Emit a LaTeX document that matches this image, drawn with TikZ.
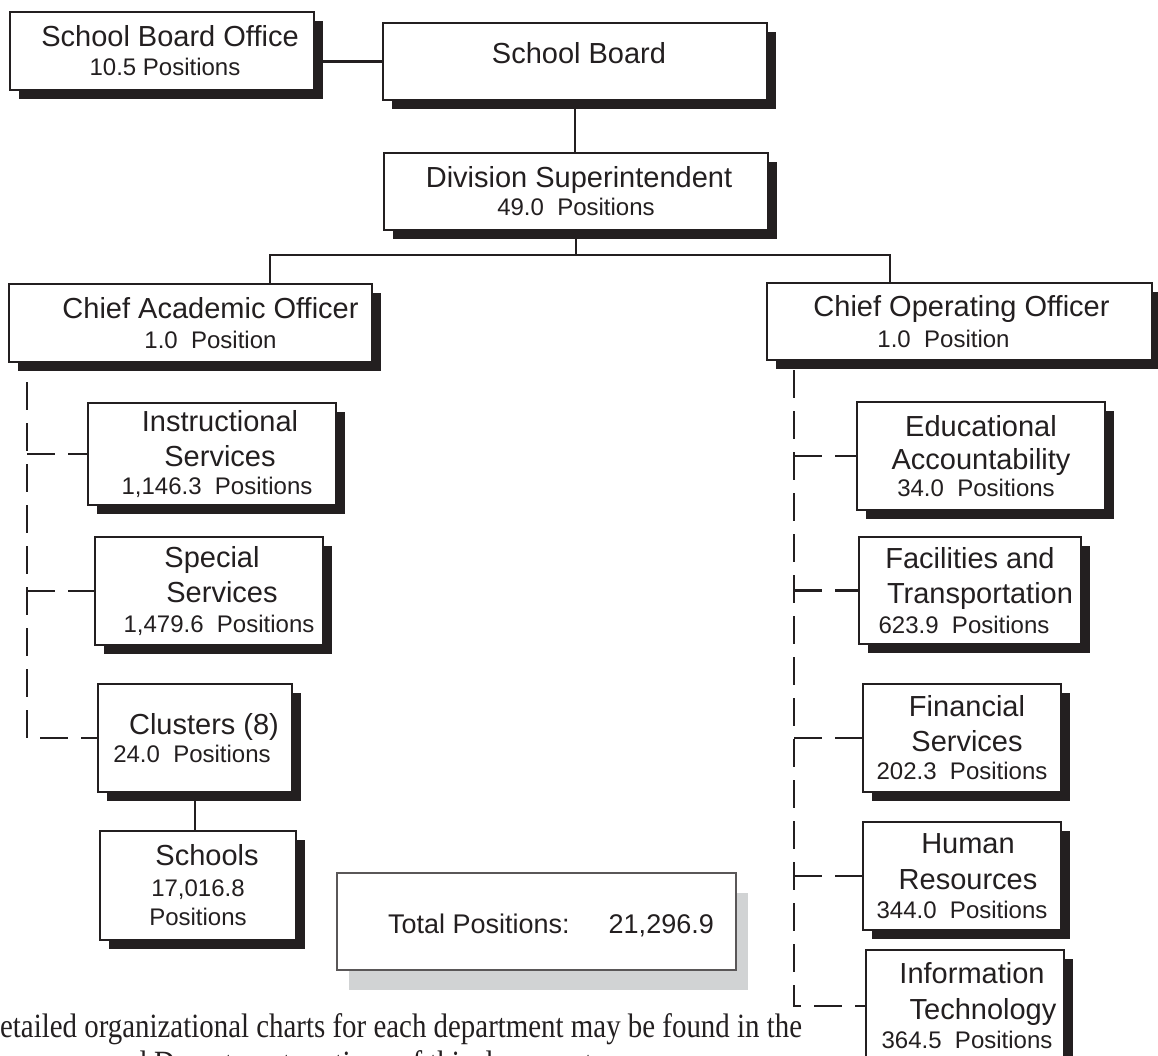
\documentclass[tikz,border=0pt]{standalone}
\usepackage{fontspec}
\setmainfont{Liberation Sans}
\newfontfamily\capfont[FakeStretch=0.85]{Liberation Serif}
\usetikzlibrary{shadows}
\definecolor{ink}{RGB}{35,31,32}
\definecolor{shadowgray}{RGB}{209,211,212}
\newcommand\orgmain{\fontsize{29}{34}\selectfont}
\newcommand\orgsub{\fontsize{24}{28}\selectfont}
% shift a centred line sideways by #1
\newcommand\nudge[2]{\hspace*{#1}#2}

\begin{document}
\begin{tikzpicture}[x=1pt,y=-1pt,
  orgbox/.style={draw=ink, line width=2.6pt, fill=white, text=ink, align=center,
    inner sep=0pt, font=\orgmain,
    drop shadow={shadow xshift=9pt, shadow yshift=-9pt, opacity=1, fill=ink}},
  link/.style={draw=ink, line width=2.4pt},
  dashlink/.style={draw=ink, line width=2.4pt, dash pattern=on 28pt off 13pt},
]
\useasboundingbox (0,0) rectangle (1158,1055);
\clip (0,0) rectangle (1158,1055);

% top of the hierarchy
\node[orgbox, minimum width=304pt, minimum height=78pt] (sbo) at (162,51)
  {\nudge{16pt}{School Board Office}\\[-5pt]{\orgsub \nudge{6pt}{10.5 Positions}}};
\node[orgbox, minimum width=384pt, minimum height=77pt] (sb) at (575,61.5)
  {\raisebox{-2pt}[0pt][0pt]{\nudge{8pt}{School Board}}};
\node[orgbox, minimum width=384pt, minimum height=77pt] (ds) at (576,191.5)
  {\nudge{6pt}{Division Superintendent}\\[-6pt]{\orgsub 49.0\ \ Positions}};

% the two chief officers
\node[orgbox, minimum width=363pt, minimum height=78pt] (cao) at (190.5,323)
  {\nudge{40pt}{Chief Academic Officer}\\[-4pt]{\orgsub \nudge{40pt}{1.0\ \ Position}}};
\node[orgbox, minimum width=385pt, minimum height=77pt] (coo) at (959.5,321.5)
  {\nudge{4pt}{Chief Operating Officer}\\[-3pt]{\orgsub 1.0\ \ Position\hspace*{32pt}}};

% academic side
\node[orgbox, minimum width=248pt, minimum height=102pt] (ins) at (212,454)
  {\nudge{16pt}{Instructional}\\[1pt]\nudge{16pt}{Services}\\[-6pt]{\orgsub \nudge{10pt}{1,146.3\ \ Positions}}};
\node[orgbox, minimum width=228pt, minimum height=108pt] (spe) at (209,591)
  {\nudge{6pt}{Special}\\[1pt]\nudge{26pt}{Services}\\[-4pt]{\orgsub \nudge{20pt}{1,479.6\ \ Positions}}};
\node[orgbox, minimum width=194pt, minimum height=108pt] (clu) at (195,738)
  {\nudge{18pt}{Clusters (8)}\\[-6pt]{\orgsub 24.0\ \ Positions\hspace*{6pt}}};
\node[orgbox, minimum width=196pt, minimum height=109pt] (sch) at (198,885.5)
  {\nudge{18pt}{Schools}\\[-3pt]{\orgsub 17,016.8}\\[-5pt]{\orgsub Positions}};

% operating side
\node[orgbox, minimum width=248pt, minimum height=108pt] (ea) at (981,456)
  {Educational\\[-1pt]Accountability\\[-7pt]{\orgsub 34.0\ \ Positions\hspace*{10pt}}};
\node[orgbox, minimum width=222pt, minimum height=107pt] (ft) at (970,590.5)
  {Facilities and\\[1pt]\nudge{20pt}{Transportation}\\[-4pt]{\orgsub 623.9\ \ Positions\hspace*{12pt}}};
\node[orgbox, minimum width=198pt, minimum height=108pt] (fin) at (962,738)
  {\nudge{10pt}{Financial}\\[1pt]\nudge{10pt}{Services}\\[-6pt]{\orgsub 202.3\ \ Positions}};
\node[orgbox, minimum width=198pt, minimum height=108pt] (hr) at (962,876)
  {\nudge{12pt}{Human}\\[2pt]\nudge{12pt}{Resources}\\[-5pt]{\orgsub 344.0\ \ Positions}};
\node[orgbox, minimum width=198pt, minimum height=112pt] (it) at (965,1006)
  {\nudge{14pt}{Information}\\[2pt]\nudge{36pt}{Technology}\\[-5pt]{\orgsub \nudge{4pt}{364.5\ \ Positions}}};

% solid reporting lines
\draw[link] (sb.west) -- (sb.west -| sbo.east);
\draw[link] (sb.south) -- (sb.south |- ds.north);
\coordinate (caotap) at (270,255);
\coordinate (cootap) at (890,255);
\draw[link] (ds.south) -- (ds.south |- caotap);
\draw[link] (caotap |- cao.north) -- (caotap) -- (cootap) -- (cootap |- coo.north);
\draw[link] (clu.south) -- (clu.south |- sch.north);

% dashed reporting lines, academic side
\coordinate (ltop) at (27,382);
\draw[dashlink] (ltop) -- (ltop |- clu.west) -- (clu.west);
\draw[dashlink] (ltop |- ins.west) -- (ins.west);
\draw[dashlink] (ltop |- spe.west) -- (spe.west);

% dashed reporting lines, operating side
\coordinate (rtop) at (794,370);
\draw[dashlink] (rtop) -- (rtop |- it.west) -- (it.west);
\draw[dashlink] (rtop |- ea.west) -- (ea.west);
\draw[dashlink] (rtop |- ft.west) -- (ft.west);
\draw[dashlink] (rtop |- fin.west) -- (fin.west);
\draw[dashlink] (rtop |- hr.west) -- (hr.west);

% total
\node[fill=shadowgray, inner sep=0pt, minimum width=399pt, minimum height=97pt] (totshade) at (548.5,941.5) {};
\node[draw=ink!75, line width=1.3pt, fill=white, inner sep=0pt, minimum width=399pt, minimum height=97pt] (tot) at (536.5,921.5) {};
\node[text=ink, inner sep=0pt, font=\fontsize{27}{32}\selectfont] (tottext) at (551,925)
  {Total Positions:\hspace{39pt}21,296.9};

% footnote
\node[anchor=base west, inner sep=0pt, text=ink, font=\capfont\fontsize{34}{40}\selectfont] (note1) at (-21,1037)
  {Detailed organizational charts for each department may be found in the};
\node[anchor=base west, inner sep=0pt, text=ink, font=\capfont\fontsize{34}{40}\selectfont] (note2) at (105,1074)
  {and Department sections of this document.};
\end{tikzpicture}
\end{document}
